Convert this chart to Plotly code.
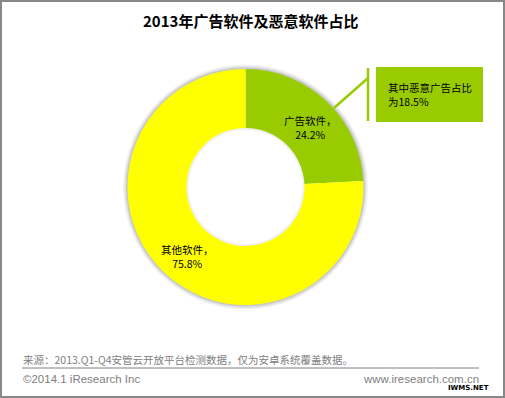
import plotly.graph_objects as go

W, H = 505, 398
labels = ["广告软件", "其他软件"]
values = [24.2, 75.8]
colors = ["#99CC00", "#FFFF00"]
title_text = "2013年广告软件及恶意软件占比"
callout_text = "其中恶意广告占比<br>为18.5%"
source_text = "来源：2013.Q1-Q4安管云开放平台检测数据，仅为安卓系统覆盖数据。"
copyright_text = "©2014.1 iResearch Inc"
site_text = "www.iresearch.com.cn"

def px(x):
    return x / W

def py(y):
    return 1 - y / H

cjk = "Noto Sans CJK SC"
CX, CY, R = 245.5, 187.0, 118.0
HOLE = 0.50

def dom(r):
    return dict(x=[px(CX - r), px(CX + r)], y=[py(CY + r), py(CY - r)])

fig = go.Figure()
# soft blurred shadow rings around the donut
for extra, alpha in [(4.5, 0.05), (3.0, 0.07), (1.5, 0.10)]:
    ro = R + extra
    fig.add_trace(go.Pie(
        values=[1], marker=dict(colors=[f"rgba(0,0,0,{alpha})"], line=dict(width=0)),
        hole=(R - 3) / ro, sort=False, textinfo="none", hoverinfo="skip", showlegend=False,
        domain=dom(ro),
    ))
fig.add_trace(go.Pie(
    labels=labels, values=values, marker=dict(colors=colors, line=dict(width=0)),
    hole=HOLE, sort=False, direction="clockwise", rotation=0,
    textinfo="none", showlegend=False, domain=dom(R),
))
# faint inner shadow at the hole edge
fig.add_trace(go.Pie(
    values=[1], marker=dict(colors=["rgba(0,0,0,0.06)"], line=dict(width=0)),
    hole=(R * HOLE - 2.0) / (R * HOLE), sort=False, textinfo="none", hoverinfo="skip",
    showlegend=False, domain=dom(R * HOLE),
))

ann = []
ann.append(dict(x=px(250), y=py(20), text="<b>" + title_text + "</b>", showarrow=False,
                font=dict(family=cjk, size=15, color="#000"), xanchor="center", yanchor="middle"))
ann.append(dict(x=px(310), y=py(127), text=f"{labels[0]}，<br>{values[0]}%", showarrow=False,
                font=dict(family=cjk, size=10.5, color="#000"), xanchor="center", yanchor="middle"))
ann.append(dict(x=px(187), y=py(256), text=f"{labels[1]}，<br>{values[1]}%", showarrow=False,
                font=dict(family=cjk, size=10.5, color="#000"), xanchor="center", yanchor="middle"))
ann.append(dict(x=px(386), y=py(95), text=callout_text, showarrow=False, align="left",
                font=dict(family=cjk, size=10.5, color="#000"), xanchor="left", yanchor="middle"))
ann.append(dict(x=px(21), y=py(359), text=source_text, showarrow=False,
                font=dict(family=cjk, size=10.5, color="#808080"), xanchor="left", yanchor="middle"))
ann.append(dict(x=px(21), y=py(379), text=copyright_text, showarrow=False,
                font=dict(family="Liberation Sans", size=11.5, color="#808080"), xanchor="left", yanchor="middle"))
ann.append(dict(x=px(481), y=py(379), text=site_text, showarrow=False,
                font=dict(family="Liberation Sans", size=11.5, color="#808080"), xanchor="right", yanchor="middle"))
ann.append(dict(x=px(491), y=py(388), text="<b>IWMS.NET</b>", showarrow=False,
                font=dict(family="DejaVu Sans", size=7, color="#000"), xanchor="right", yanchor="middle"))

shapes = [
    dict(type="rect", xref="paper", yref="paper", x0=px(1), x1=px(W - 1), y0=py(H - 1), y1=py(1),
         line=dict(color="#888888", width=2)),
    dict(type="rect", xref="paper", yref="paper", x0=px(376), x1=px(483), y0=py(122), y1=py(67),
         fillcolor="#99CC00", line=dict(width=0)),
    dict(type="line", xref="paper", yref="paper", x0=px(368), x1=px(368), y0=py(121), y1=py(68),
         line=dict(color="#99CC00", width=2.5)),
    dict(type="line", xref="paper", yref="paper", x0=px(334), x1=px(368), y0=py(108), y1=py(78),
         line=dict(color="#99CC00", width=2.5)),
    dict(type="line", xref="paper", yref="paper", x0=px(22), x1=px(479), y0=py(368), y1=py(368),
         line=dict(color="#808080", width=1)),
]

fig.update_layout(width=W, height=H, margin=dict(l=0, r=0, t=0, b=0),
                  paper_bgcolor="white", plot_bgcolor="white",
                  annotations=ann, shapes=shapes)
fig.write_html("out.html", config={"displayModeBar": False},
               post_script="document.body.style.margin='0';document.body.style.overflow='hidden';")
